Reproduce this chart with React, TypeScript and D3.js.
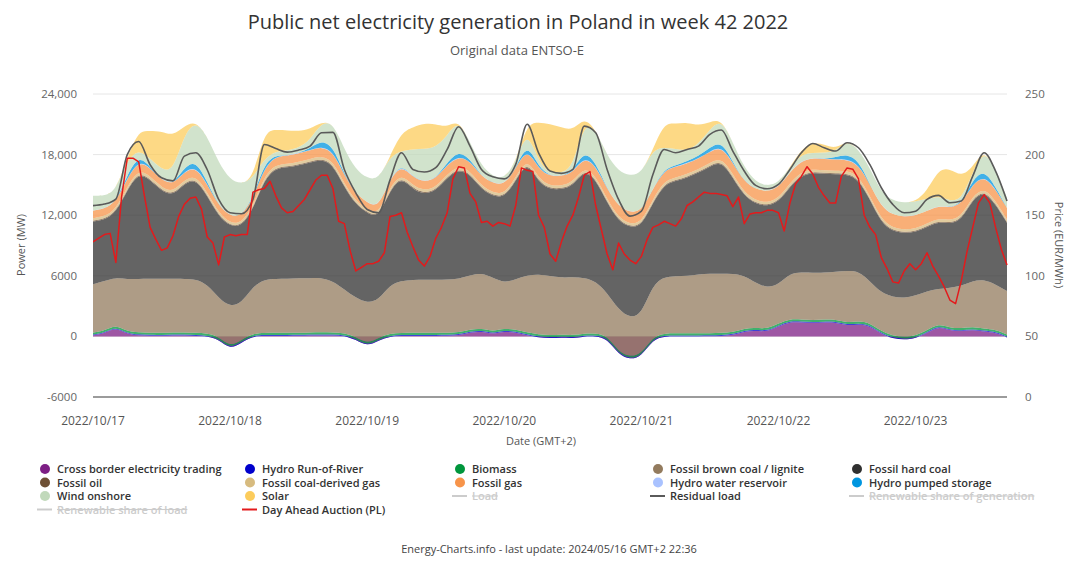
import React from "react";
import * as d3 from "d3";

const WIDTH = 1080;
const HEIGHT = 564;
const FONT = "'Open Sans', 'Noto Sans', sans-serif";

// Hours between area samples (from 2022/10/17 00:00 GMT+2)
const AREA_STEP = 2;
// Hours between price samples
const PRICE_STEP = 1;

const dayTickHours = [0, 24, 48, 72, 96, 120, 144];
const dayTickLabels = ["2022/10/17", "2022/10/18", "2022/10/19", "2022/10/20", "2022/10/21", "2022/10/22", "2022/10/23"];
const powerTicks = [-6000, 0, 6000, 12000, 18000, 24000];
const priceTicks = [0, 50, 100, 150, 200, 250];

// MW, every 2 hours
const crossBorder = [100,300,900,200,100,50,50,100,100,50, 0,-300,-1300,-600,0,50,50,50,50,100, 100,100,50,-300,-1000,-400,0,50,50,50, 50,50,100,400,500,200,500,400,100,-100, -200,-100,-200,0,0,-200,-1800,-2300,-2000,-300, 0,0,0,0,0,50,100,500,560,460, 990,1450,1380,1320,1380,1380,1050,1220,1050,230, -200,-330,-200,330,1000,560,490,660,460,390, -100];
const hydroRoR = [80,80,85,90,95,95,90,90,95,95, 90,85,80,80,85,95,95,95,95,95, 95,95,90,85,80,80,85,90,95,95, 95,95,95,95,90,90,90,90,95,95, 95,95,95,95,95,90,85,80,80,85, 95,95,95,95,95,95,95,90,90,85, 85,90,90,90,90,90,95,95,90,85, 80,80,80,85,90,90,90,95,95,90, 85];
const biomass = [190,190,195,200,210,210,210,205,205,210, 205,200,195,190,195,205,210,210,210,210, 210,210,205,200,195,195,200,205,210,210, 210,210,210,210,205,205,205,205,210,210, 210,210,210,210,205,200,195,190,190,195, 205,210,210,210,210,210,210,205,205,200, 200,205,205,205,205,205,210,210,205,200, 195,190,190,195,200,205,205,210,210,205, 200];
const lignite = [4800,4900,4650,5150,5300,5350,5350,5300,5300,5300, 4850,3830,3940,3630,4680,5290,5350,5350,5400,5350, 5400,5080,4300,3830,4030,3700,4850,5150,5250,5250, 5250,5250,5300,5340,5500,5300,4510,4940,5640,5940, 5870,5600,5770,5500,5180,4220,4170,3850,3880,5150, 5600,5670,5670,5840,5900,5850,5800,5240,4450,4060, 3860,4490,4690,4680,4620,4750,5120,4950,4130,3790, 3830,3860,3960,3860,3420,3960,4190,4520,4880,4460, 4300];
const hardCoal = [6200,6080,6390,8850,10500,9800,8700,8200,9450,9950, 8750,8070,7960,7570,7590,9900,10960,11000,11180,11440, 11720,11550,10100,9240,8910,8150,9350,10300,8950,8460, 8790,10110,10830,10000,8250,8090,8420,9740,11320,9070, 8580,8750,9010,10670,10060,8910,8750,8970,8740,8080, 9150,9410,9740,10060,10600,11160,9510,7850,7820,8080, 8150,8580,9570,9900,9800,9610,9570,9070,8080,6930, 6500,6430,6300,6370,6630,6330,6500,8080,8750,7920, 6750];
const fossilOil = [90,90,90,95,100,100,100,100,100,100, 95,90,90,90,90,100,100,100,100,100, 100,100,95,90,90,90,95,100,100,100, 100,100,100,100,95,95,95,95,100,100, 100,100,100,100,100,95,90,90,90,95, 100,100,100,100,100,100,100,95,95,95, 95,100,100,100,100,100,100,100,95,90, 90,90,90,90,95,95,95,100,100,95, 90];
const coalGas = [240,240,240,250,260,260,250,250,260,260, 250,240,230,230,240,250,260,260,260,260, 260,260,250,240,230,230,240,250,260,260, 260,260,260,260,250,250,250,250,260,260, 260,260,260,260,250,250,240,240,240,250, 260,260,260,260,260,260,260,250,250,250, 250,260,260,260,260,260,260,260,250,240, 240,240,240,240,250,250,250,260,260,250, 240];
const fossilGas = [750,750,750,800,850,800,750,750,800,850, 800,750,700,700,750,800,800,800,850,850, 900,900,850,750,700,700,800,850,850,850, 850,900,950,950,950,950,900,900,950,950, 950,950,950,950,1000,1050,1150,1150,1150,1050, 1050,1050,1050,1050,1100,1100,1100,1100,1100,1100, 1100,1100,1100,1100,1100,1100,1100,1100,1150,1250, 1300,1300,1300,1250,1250,1250,1250,1150,1150,1150, 1150];
const hydroReservoir = [20,20,20,30,40,30,30,30,40,40, 30,20,20,20,20,40,30,30,30,30, 40,40,30,20,20,20,20,30,30,30, 30,30,40,30,20,20,20,20,40,30, 30,30,30,40,30,20,20,20,20,20, 30,30,30,30,40,40,30,20,20,20, 20,20,30,30,30,30,40,30,20,20, 20,20,20,20,30,30,30,30,40,30, 20];
const pumpedStorage = [0,0,0,300,500,100,0,0,400,600, 200,0,0,0,100,400,100,0,0,200, 600,500,100,0,0,0,0,100,0,0, 0,200,500,200,0,0,0,0,500,200, 0,0,100,600,300,0,0,0,0,0, 100,100,200,200,400,500,100,0,0,0, 0,0,0,0,0,200,500,400,0,0, 0,0,0,0,0,0,100,400,600,200, 0];
const windOnshore = [1450,1250,1100,1500,600,800,1000,1300,3300,3900, 4550,4200,3600,3150,1900,500,400,500,500,800, 1780,2370,2460,2360,2400,2740,2200,1250,2750,3240, 3090,2670,3090,1630,1010,610,620,560,1400,400, 300,300,400,2800,3300,3220,3450,3620,3720,3880, 2130,1630,1040,1200,1800,2170,1910,1360,700,530, 460,430,600,500,600,600,1350,1120,1640,1370, 1420,1320,1390,1200,940,650,300,700,2020,1760, 980];
const solar = [0,0,0,200,1900,2700,3800,3500,800,0, 0,0,0,0,0,2700,2100,2000,1650,1100, 0,0,0,0,0,0,0,1850,2160,2550, 2310,830,0,0,0,0,0,0,500,4040, 4840,4510,3650,480,0,0,0,0,0,0, 2470,2480,2800,1820,700,0,0,0,0,0, 0,0,520,1020,850,220,0,0,0,0, 0,0,0,730,2640,3200,2300,540,0,0, 0];
const residualLoad = [12950,13100,13600,18000,19300,17000,15700,15400,17850,18180, 16500,13560,12240,12150,13560,19000,18600,18250,18450,18840, 20160,20200,16530,14220,12570,12240,15500,18180,16530,16270, 16700,18510,20760,18840,16530,15800,15600,17030,21000,18180, 16370,16140,16530,20820,20160,16530,13560,11910,12400,16000, 18510,18180,18510,18840,20000,20430,18350,16370,14950,14620, 15050,16530,18180,19100,18680,18350,19170,18680,17000,14720, 13070,12240,12400,13560,13960,13230,13400,15870,18180,16370, 13400];

// EUR/MWh, hourly
const dayAheadPrice = [
  128,131,134,135,111,165,197,197,194,166,140,130,121,123,133,149,159,164,165,155,132,127,109,132,
  134,133,134,134,169,171,172,178,166,156,152,153,158,163,171,179,183,183,172,145,143,121,104,107,
  110,110,112,119,149,150,152,136,124,113,108,116,131,140,152,180,190,189,168,161,144,145,141,144,
  143,141,158,189,187,186,150,140,118,112,128,141,150,165,183,186,158,138,118,105,127,118,113,110,
  116,130,140,142,145,143,141,147,158,161,165,169,168,168,167,166,157,165,143,151,152,152,154,154,
  152,137,160,176,182,190,184,173,166,160,160,182,189,188,180,150,140,134,115,106,95,94,104,110,
  105,110,119,108,100,91,80,77,96,120,140,160,167,160,140,122,109
];

const seriesKeys = ["crossBorder","hydroRoR","biomass","lignite","hardCoal","fossilOil","coalGas","fossilGas","hydroReservoir","pumpedStorage","windOnshore","solar"];
const seriesData: Record<string, number[]> = { crossBorder, hydroRoR, biomass, lignite, hardCoal, fossilOil, coalGas, fossilGas, hydroReservoir, pumpedStorage, windOnshore, solar };
const seriesColors: Record<string, string> = {
  crossBorder: "#7d1f85",
  hydroRoR: "#0000cc",
  biomass: "#00963c",
  lignite: "#937b5e",
  hardCoal: "#303030",
  fossilOil: "#6e5035",
  coalGas: "#d7bb7f",
  fossilGas: "#f7944a",
  hydroReservoir: "#a9c2ff",
  pumpedStorage: "#0096e0",
  windOnshore: "#c1d9bb",
  solar: "#fccc5c",
};

type LegendItem = { label: string; color: string; kind: "dot" | "line"; hidden?: boolean };
const legendItems: LegendItem[] = [
  { label: "Cross border electricity trading", color: "#7d1f85", kind: "dot" },
  { label: "Hydro Run-of-River", color: "#0000cc", kind: "dot" },
  { label: "Biomass", color: "#00963c", kind: "dot" },
  { label: "Fossil brown coal / lignite", color: "#937b5e", kind: "dot" },
  { label: "Fossil hard coal", color: "#303030", kind: "dot" },
  { label: "Fossil oil", color: "#6e5035", kind: "dot" },
  { label: "Fossil coal-derived gas", color: "#d7bb7f", kind: "dot" },
  { label: "Fossil gas", color: "#f7944a", kind: "dot" },
  { label: "Hydro water reservoir", color: "#a9c2ff", kind: "dot" },
  { label: "Hydro pumped storage", color: "#0096e0", kind: "dot" },
  { label: "Wind onshore", color: "#c1d9bb", kind: "dot" },
  { label: "Solar", color: "#fccc5c", kind: "dot" },
  { label: "Load", color: "#cccccc", kind: "line", hidden: true },
  { label: "Residual load", color: "#5a5a5a", kind: "line" },
  { label: "Renewable share of generation", color: "#cccccc", kind: "line", hidden: true },
  { label: "Renewable share of load", color: "#cccccc", kind: "line", hidden: true },
  { label: "Day Ahead Auction (PL)", color: "#e31a1c", kind: "line" },
];
const legendColX = [45, 250, 460, 658, 857];
const legendRowY = [469, 482.5, 496, 509.5];

const PLOT_LEFT = 93;
const PLOT_RIGHT = 1007;
const PLOT_TOP = 94;
const PLOT_BOTTOM = 397;

function fmtPower(v: number) {
  return Math.abs(v) >= 10000 ? d3.format(",")(v) : String(v);
}

export default function App() {
  const x = d3.scaleLinear().domain([0, 160]).range([PLOT_LEFT, PLOT_RIGHT]);
  const yP = d3.scaleLinear().domain([-6000, 24000]).range([PLOT_BOTTOM, PLOT_TOP]);
  const yE = d3.scaleLinear().domain([0, 250]).range([PLOT_BOTTOM, PLOT_TOP]);

  const rows = crossBorder.map((_, i) => {
    const r: any = { t: i * AREA_STEP };
    seriesKeys.forEach((k) => (r[k] = seriesData[k][i]));
    return r;
  });
  const layers = d3.stack<any>().keys(seriesKeys).order(d3.stackOrderNone).offset(d3.stackOffsetNone)(rows);
  const area = d3
    .area<any>()
    .x((d) => x(d.data.t))
    .y0((d) => yP(d[0]))
    .y1((d) => yP(d[1]))
    .curve(d3.curveBasis);

  const resLine = d3
    .line<number>()
    .x((_, i) => x(i * AREA_STEP))
    .y((d) => yP(d))
    .curve(d3.curveMonotoneX);
  const priceLine = d3
    .line<number>()
    .x((_, i) => x(i * PRICE_STEP))
    .y((d) => yE(d));

  return (
    <div style={{ position: "absolute", left: 0, top: 0 }}>
      <svg width={WIDTH} height={HEIGHT} style={{ display: "block", fontFamily: FONT }}>
        <rect x={0} y={0} width={WIDTH} height={HEIGHT} fill="#ffffff" />
        <defs>
          <clipPath id="plotClip">
            <rect x={PLOT_LEFT} y={PLOT_TOP - 2} width={PLOT_RIGHT - PLOT_LEFT + 1} height={PLOT_BOTTOM - PLOT_TOP + 2} />
          </clipPath>
        </defs>
        <text x={518} y={29} textAnchor="middle" fontSize={20} fill="#333333">
          Public net electricity generation in Poland in week 42 2022
        </text>
        <text x={517} y={55} textAnchor="middle" fontSize={13} fill="#555555">
          Original data ENTSO-E
        </text>

        {/* grid */}
        {powerTicks.filter((v) => v !== -6000).map((v) => (
          <line key={v} x1={PLOT_LEFT} x2={PLOT_RIGHT} y1={yP(v)} y2={yP(v)} stroke="#e6e6e6" strokeWidth={1} />
        ))}

        <g clipPath="url(#plotClip)">
          {layers.map((layer: any) => (
            <path key={layer.key} d={area(layer) || ""} fill={seriesColors[layer.key]} fillOpacity={0.75} stroke="none" />
          ))}
          <path d={resLine(residualLoad) || ""} fill="none" stroke="#5a5a5a" strokeWidth={1.6} />
          <path d={priceLine(dayAheadPrice) || ""} fill="none" stroke="#e31a1c" strokeWidth={1.5} strokeLinejoin="round" />
        </g>

        {/* x axis line */}
        <line x1={PLOT_LEFT} x2={PLOT_RIGHT} y1={PLOT_BOTTOM} y2={PLOT_BOTTOM} stroke="#7a7a7a" strokeWidth={1.5} />

        {/* left ticks */}
        {powerTicks.map((v) => (
          <text key={v} x={77} y={yP(v) + 4} textAnchor="end" fontSize={11.5} fill="#666666">
            {fmtPower(v)}
          </text>
        ))}
        {/* right ticks */}
        {priceTicks.map((v) => (
          <text key={v} x={1025} y={yE(v) + 4} textAnchor="start" fontSize={11.5} fill="#666666">
            {v}
          </text>
        ))}
        {/* x ticks */}
        {dayTickHours.map((h, i) => (
          <text key={h} x={x(h)} y={425} textAnchor="middle" fontSize={12} fill="#555555">
            {dayTickLabels[i]}
          </text>
        ))}

        <text x={541} y={445} textAnchor="middle" fontSize={11} fill="#555555">
          Date (GMT+2)
        </text>
        <text transform={`translate(25,245) rotate(-90)`} textAnchor="middle" fontSize={11} fill="#555555">
          Power (MW)
        </text>
        <text transform={`translate(1055,245) rotate(90)`} textAnchor="middle" fontSize={11} fill="#555555">
          Price (EUR/MWh)
        </text>

        {/* legend */}
        {legendItems.map((it, i) => {
          const cx = legendColX[i % 5];
          const cy = legendRowY[Math.floor(i / 5)];
          const textColor = it.hidden ? "#cccccc" : "#333333";
          return (
            <g key={it.label}>
              {it.kind === "dot" ? (
                <circle cx={cx} cy={cy} r={5} fill={it.color} />
              ) : (
                <line x1={cx - 8} x2={cx + 7} y1={cy} y2={cy} stroke={it.color} strokeWidth={2} />
              )}
              <text
                x={cx + 12}
                y={cy + 4}
                fontSize={11}
                fontWeight={600}
                fill={textColor}
                textDecoration={it.hidden ? "line-through" : undefined}
              >
                {it.label}
              </text>
            </g>
          );
        })}

        <text x={549} y={553} textAnchor="middle" fontSize={11} fill="#444444">
          Energy-Charts.info - last update: 2024/05/16 GMT+2 22:36
        </text>
      </svg>
    </div>
  );
}
